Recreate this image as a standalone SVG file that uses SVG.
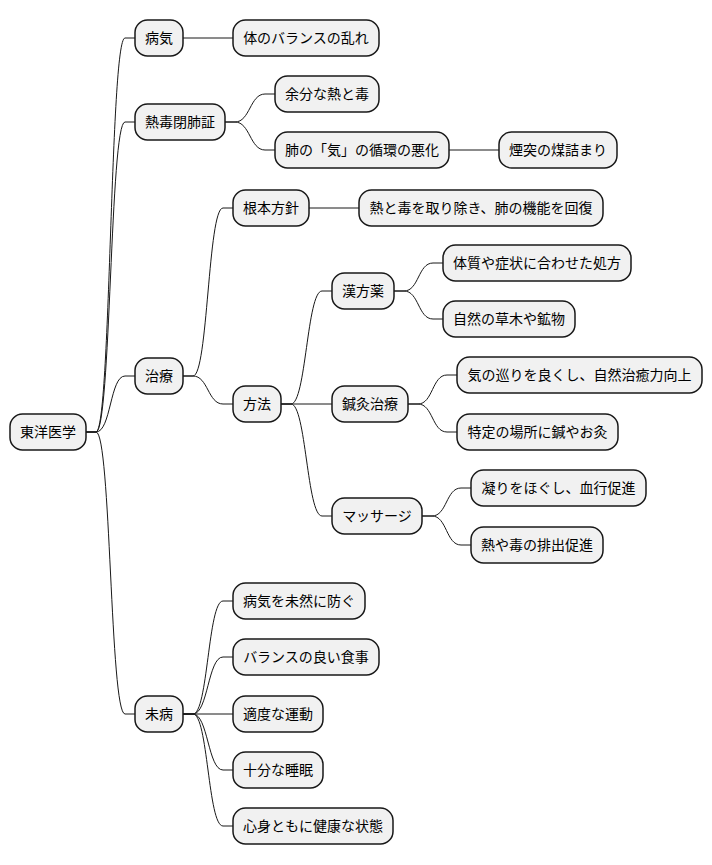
<svg xmlns="http://www.w3.org/2000/svg" width="712" height="865" viewBox="0 0 712 865">
<style>
.n rect{fill:#F1F1F1;stroke:#181818;stroke-width:1.5}
.n text{font-family:"Noto Sans CJK JP","Noto Sans",sans-serif;font-size:14px;fill:#000;text-anchor:middle}
.c path{fill:none;stroke:#181818;stroke-width:1}
</style>
<rect width="712" height="865" fill="#fff"/>
<g class="c">
<path d="M86,432 L96,432 C111,432 110,38 125,38 L135,38"/>
<path d="M86,432 L96,432 C111,432 110,122 125,122 L135,122"/>
<path d="M86,432 L96,432 C111,432 110,376 125,376 L135,376"/>
<path d="M86,432 L96,432 C111,432 110,714 125,714 L135,714"/>
<path d="M183,38 L233,38"/>
<path d="M225,122 L235,122 C250,122 250,94 265,94 L275,94"/>
<path d="M225,122 L235,122 C250,122 250,150 265,150 L275,150"/>
<path d="M449,150 L499,150"/>
<path d="M183,376 L193,376 C208,376 208,208 223,208 L233,208"/>
<path d="M183,376 L193,376 C208,376 208,404 223,404 L233,404"/>
<path d="M309,208 L359,208"/>
<path d="M281,404 L291,404 C306,404 307,291 322,291 L332,291"/>
<path d="M281,404 L332,404"/>
<path d="M281,404 L291,404 C306,404 307,516 322,516 L332,516"/>
<path d="M394,291 L404,291 C419,291 418,263 433,263 L443,263"/>
<path d="M394,291 L404,291 C419,291 418,319 433,319 L443,319"/>
<path d="M408,404 L418,404 C433,404 432,375 447,375 L457,375"/>
<path d="M408,404 L418,404 C433,404 432,432 447,432 L457,432"/>
<path d="M422,516 L432,516 C447,516 446,488 461,488 L471,488"/>
<path d="M422,516 L432,516 C447,516 446,545 461,545 L471,545"/>
<path d="M183,714 L193,714 C208,714 208,601 223,601 L233,601"/>
<path d="M183,714 L193,714 C208,714 208,657 223,657 L233,657"/>
<path d="M183,714 L233,714"/>
<path d="M183,714 L193,714 C208,714 208,770 223,770 L233,770"/>
<path d="M183,714 L193,714 C208,714 208,826 223,826 L233,826"/>
</g>
<g id="root" class="n"><rect x="10" y="414" width="76" height="36" rx="12.5"/><text x="48" y="437">東洋医学</text></g>
<g id="byoki" class="n"><rect x="135" y="20" width="48" height="36" rx="12.5"/><text x="159" y="43">病気</text></g>
<g id="netsudoku" class="n"><rect x="135" y="104" width="90" height="36" rx="12.5"/><text x="180" y="127">熱毒閉肺証</text></g>
<g id="chiryo" class="n"><rect x="135" y="358" width="48" height="36" rx="12.5"/><text x="159" y="381">治療</text></g>
<g id="mibyo" class="n"><rect x="135" y="696" width="48" height="36" rx="12.5"/><text x="159" y="719">未病</text></g>
<g id="balance" class="n"><rect x="233" y="20" width="146" height="36" rx="12.5"/><text x="306" y="43">体のバランスの乱れ</text></g>
<g id="yobun" class="n"><rect x="275" y="76" width="104" height="36" rx="12.5"/><text x="327" y="99">余分な熱と毒</text></g>
<g id="hai" class="n"><rect x="275" y="132" width="174" height="36" rx="12.5"/><text x="362" y="155">肺の「気」の循環の悪化</text></g>
<g id="entotsu" class="n"><rect x="499" y="132" width="118" height="36" rx="12.5"/><text x="558" y="155">煙突の煤詰まり</text></g>
<g id="konpon" class="n"><rect x="233" y="190" width="76" height="36" rx="12.5"/><text x="271" y="213">根本方針</text></g>
<g id="torinozoki" class="n"><rect x="359" y="190" width="244" height="36" rx="12.5"/><text x="481" y="213">熱と毒を取り除き、肺の機能を回復</text></g>
<g id="hoho" class="n"><rect x="233" y="386" width="48" height="36" rx="12.5"/><text x="257" y="409">方法</text></g>
<g id="kampo" class="n"><rect x="332" y="273" width="62" height="36" rx="12.5"/><text x="363" y="296">漢方薬</text></g>
<g id="taishitsu" class="n"><rect x="443" y="245" width="188" height="36" rx="12.5"/><text x="537" y="268">体質や症状に合わせた処方</text></g>
<g id="shizen" class="n"><rect x="443" y="301" width="132" height="36" rx="12.5"/><text x="509" y="324">自然の草木や鉱物</text></g>
<g id="shinkyu" class="n"><rect x="332" y="386" width="76" height="36" rx="12.5"/><text x="370" y="409">鍼灸治療</text></g>
<g id="meguri" class="n"><rect x="457" y="357" width="245" height="36" rx="12.5"/><text x="579.5" y="380">気の巡りを良くし、自然治癒力向上</text></g>
<g id="tokutei" class="n"><rect x="457" y="414" width="161" height="36" rx="12.5"/><text x="537.5" y="437">特定の場所に鍼やお灸</text></g>
<g id="massage" class="n"><rect x="332" y="498" width="90" height="36" rx="12.5"/><text x="377" y="521">マッサージ</text></g>
<g id="kori" class="n"><rect x="471" y="470" width="175" height="36" rx="12.5"/><text x="558.5" y="493">凝りをほぐし、血行促進</text></g>
<g id="haishutsu" class="n"><rect x="471" y="527" width="132" height="36" rx="12.5"/><text x="537" y="550">熱や毒の排出促進</text></g>
<g id="mizen" class="n"><rect x="233" y="583" width="132" height="36" rx="12.5"/><text x="299" y="606">病気を未然に防ぐ</text></g>
<g id="shokuji" class="n"><rect x="233" y="639" width="146" height="36" rx="12.5"/><text x="306" y="662">バランスの良い食事</text></g>
<g id="undo" class="n"><rect x="233" y="696" width="90" height="36" rx="12.5"/><text x="278" y="719">適度な運動</text></g>
<g id="suimin" class="n"><rect x="233" y="752" width="90" height="36" rx="12.5"/><text x="278" y="775">十分な睡眠</text></g>
<g id="kenko" class="n"><rect x="233" y="808" width="160" height="36" rx="12.5"/><text x="313" y="831">心身ともに健康な状態</text></g>
</svg>
